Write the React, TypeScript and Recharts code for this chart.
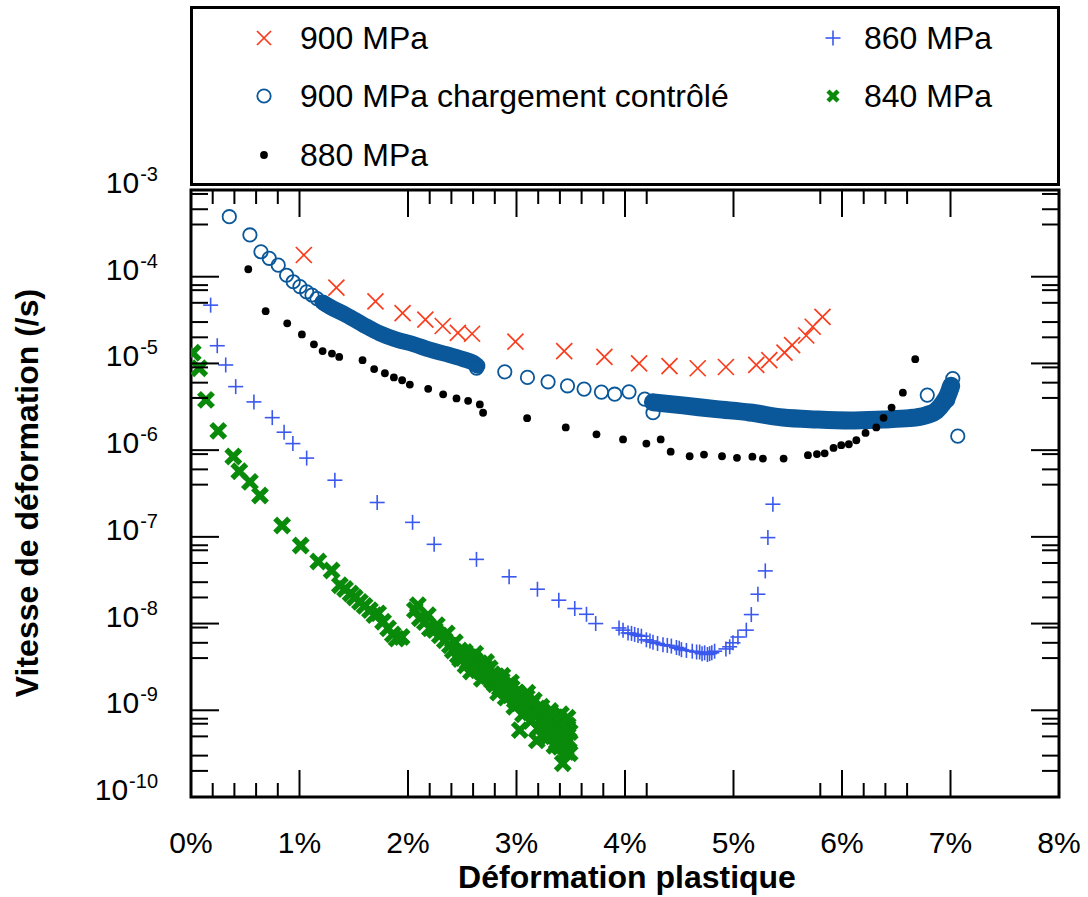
import React from 'react';
import { ComposedChart, Scatter, Line, XAxis, YAxis, ReferenceArea } from 'recharts';

const FONT = '"Liberation Sans", Arial, Helvetica, sans-serif';
const CHART_W = 1088;
const CHART_H = 897;
const PLOT_W = 868;
const PLOT_H = 607;

const RED = '#f93c1c';
const BLUE_C = '#0a5799';
const BLUE_P = '#3a58ee';
const GREEN = '#0a8a0a';

const legendLabels = ['900 MPa', '900 MPa chargement contrôlé', '880 MPa', '860 MPa', '840 MPa'];
const xTitle = 'Déformation plastique';
const yTitle = 'Vitesse de déformation (/s)';

const xTicks = [0, 0.2, 0.4, 0.6, 0.8, 1, 2, 2.2, 2.4, 2.6, 2.8, 3, 3.2, 3.4, 3.6, 3.8, 4, 4.2, 5, 5.8, 6, 6.2, 6.4, 6.6, 7, 8];
const yTicks = [
  1e-3, 9e-4, 6e-4, 4e-4,
  1e-4, 8e-5, 7e-5, 5e-5, 3e-5, 2e-5,
  1e-5, 9e-6, 6e-6, 4e-6,
  1e-6, 9e-7, 6e-7, 4e-7,
  1e-7, 8e-8, 7e-8, 5e-8, 3e-8, 2e-8,
  1e-8, 9e-9, 6e-9, 4e-9,
  1e-9, 8e-10, 7e-10, 5e-10, 3e-10, 2e-10,
  1e-10,
];

// 900 MPa (red x)
const mpa900: [number, number][] = [
  [1.04, 1.78e-4], [1.34, 7.5e-5], [1.70, 5.2e-5], [1.95, 3.8e-5], [2.16, 3.2e-5], [2.32, 2.7e-5],
  [2.46, 2.25e-5], [2.59, 2.2e-5], [2.99, 1.78e-5], [3.44, 1.39e-5], [3.81, 1.19e-5], [4.13, 1.0e-5],
  [4.41, 9.3e-6], [4.67, 8.8e-6], [4.93, 9.1e-6], [5.21, 9.6e-6], [5.33, 1.09e-5], [5.47, 1.33e-5],
  [5.54, 1.63e-5], [5.67, 2.1e-5], [5.73, 2.65e-5], [5.82, 3.45e-5],
];

// 900 MPa chargement contrôlé : individual circles
const mpa900ctrl: [number, number][] = [
  [0.353, 4.92e-4], [0.543, 3.03e-4], [0.645, 1.94e-4], [0.721, 1.63e-4], [0.804, 1.36e-4],
  [0.881, 1.04e-4], [0.942, 8.75e-5], [1.004, 7.7e-5], [1.066, 6.7e-5], [1.115, 6.15e-5],
  [1.161, 5.6e-5], [1.207, 5.1e-5], [1.243, 4.75e-5], [2.632, 8.8e-6], [2.892, 8.0e-6],
  [3.101, 6.9e-6], [3.291, 6.14e-6], [3.470, 5.52e-6], [3.623, 5.06e-6], [3.783, 4.67e-6],
  [3.905, 4.42e-6], [4.037, 4.71e-6], [4.182, 3.88e-6], [4.258, 2.7e-6], [6.786, 4.31e-6],
  [6.975, 3.78e-6], [6.991, 5.15e-6], [7.021, 6.7e-6], [7.067, 1.45e-6],
];
// 900 MPa chargement contrôlé : dense bands of overlapping circles
const mpa900ctrlBand1: [number, number][] = [
  [1.22, 5.0e-5], [1.28, 4.5e-5], [1.434, 3.6e-5], [1.587, 2.8e-5], [1.741, 2.22e-5], [1.895, 1.88e-5],
  [2.048, 1.67e-5], [2.201, 1.44e-5], [2.355, 1.28e-5], [2.508, 1.12e-5], [2.6, 1.02e-5], [2.64, 9.4e-6],
];
const mpa900ctrlBand2: [number, number][] = [
  [4.258, 3.56e-6], [4.534, 3.28e-6], [4.842, 2.97e-6], [5.149, 2.72e-6], [5.455, 2.38e-6],
  [5.763, 2.26e-6], [6.07, 2.2e-6], [6.376, 2.26e-6], [6.622, 2.34e-6], [6.776, 2.53e-6],
  [6.868, 2.84e-6], [6.929, 3.46e-6], [6.975, 4.31e-6], [7.006, 5.52e-6],
];

// 880 MPa (black dots)
const mpa880: [number, number][] = [
  [0.528, 1.22e-4], [0.688, 4.0e-5], [0.887, 2.9e-5], [1.022, 2.16e-5], [1.133, 1.66e-5], [1.213, 1.39e-5],
  [1.299, 1.3e-5], [1.366, 1.19e-5], [1.581, 1.09e-5], [1.688, 8.6e-6], [1.787, 7.7e-6], [1.87, 6.9e-6],
  [1.946, 6.4e-6], [2.017, 5.7e-6], [2.186, 5.1e-6], [2.324, 4.4e-6], [2.447, 3.95e-6], [2.554, 3.7e-6],
  [2.662, 3.37e-6], [2.692, 2.7e-6], [3.098, 2.34e-6], [3.454, 1.83e-6], [3.737, 1.52e-6], [3.982, 1.33e-6],
  [4.197, 1.19e-6], [4.329, 1.33e-6], [4.421, 9.6e-7], [4.596, 8.5e-7], [4.728, 8.9e-7], [4.894, 8.5e-7],
  [5.032, 8.15e-7], [5.174, 8.4e-7], [5.271, 8.0e-7], [5.462, 8.0e-7], [5.686, 8.75e-7], [5.769, 9.0e-7],
  [5.84, 9.2e-7], [5.922, 1.06e-6], [5.993, 1.14e-6], [6.063, 1.17e-6], [6.132, 1.3e-6], [6.217, 1.58e-6],
  [6.316, 1.83e-6], [6.383, 2.36e-6], [6.457, 3.1e-6], [6.561, 4.6e-6], [6.675, 1.12e-5],
];

// 860 MPa (blue +)
const mpa860: [number, number][] = [
  [0.181, 4.7e-5], [0.242, 1.6e-5], [0.32, 9.6e-6], [0.412, 5.4e-6], [0.58, 3.6e-6], [0.749, 2.37e-6],
  [0.858, 1.61e-6], [0.939, 1.19e-6], [1.066, 8.1e-7], [1.326, 4.5e-7], [1.716, 2.49e-7], [2.042, 1.47e-7],
  [2.241, 8.2e-8], [2.631, 5.5e-8], [2.932, 3.46e-8], [3.193, 2.49e-8], [3.39, 1.86e-8], [3.537, 1.49e-8],
  [3.645, 1.28e-8], [3.73, 1.0e-8], [3.945, 8.9e-9], [3.982, 8.4e-9], [4.028, 7.8e-9], [4.06, 7.7e-9],
  [4.089, 7.5e-9], [4.12, 7.3e-9], [4.151, 7.15e-9], [4.197, 6.5e-9], [4.23, 6.3e-9], [4.258, 6.1e-9],
  [4.3, 5.9e-9], [4.35, 5.7e-9], [4.39, 5.6e-9], [4.427, 5.5e-9], [4.474, 5.3e-9], [4.5, 5.2e-9],
  [4.52, 5.0e-9], [4.566, 4.9e-9], [4.62, 4.8e-9], [4.66, 4.7e-9], [4.688, 4.7e-9], [4.71, 4.5e-9],
  [4.734, 4.6e-9], [4.76, 4.4e-9], [4.78, 4.5e-9], [4.8, 4.6e-9], [4.826, 4.8e-9], [4.93, 5.1e-9],
  [4.965, 5.4e-9], [4.995, 6.0e-9], [5.041, 7.0e-9], [5.118, 8.4e-9], [5.164, 1.27e-8], [5.225, 2.18e-8],
  [5.293, 4.05e-8], [5.317, 9.8e-8], [5.363, 2.38e-7],
];

// 840 MPa (green bold x)
const mpa840: [number, number][] = [
  [0.016, 1.33e-5], [0.076, 8.8e-6], [0.138, 3.8e-6], [0.251, 1.67e-6], [0.39, 8.45e-7], [0.445, 5.7e-7],
  [0.543, 4.3e-7], [0.636, 3.0e-7], [0.84, 1.35e-7], [1.011, 7.95e-8], [1.173, 5.2e-8], [1.296, 4.1e-8],
  [1.372, 2.77e-8], [1.42, 2.5e-8], [1.471, 2.22e-8], [1.51, 2.0e-8], [1.557, 1.78e-8], [1.6, 1.6e-8],
  [1.649, 1.43e-8], [1.69, 1.25e-8], [1.725, 1.31e-8], [1.77, 1.05e-8], [1.817, 8.8e-9], [1.86, 7.5e-9],
  [1.895, 6.7e-9], [1.941, 7.0e-9],
  [2.063, 1.43e-8], [2.091, 1.63e-8], [2.109, 1.15e-8], [2.155, 1.04e-8], [2.183, 1.25e-8], [2.201, 8.8e-9],
  [2.247, 8.4e-9], [2.266, 9.6e-9], [2.293, 7.3e-9], [2.339, 6.4e-9], [2.358, 7.7e-9], [2.386, 5.6e-9],
  [2.413, 4.9e-9], [2.432, 6.1e-9], [2.459, 4.3e-9], [2.478, 4.9e-9], [2.505, 4.0e-9], [2.524, 4.7e-9],
  [2.551, 3.6e-9], [2.57, 4.1e-9], [2.597, 3.3e-9], [2.616, 3.8e-9], [2.643, 2.9e-9], [2.662, 3.5e-9],
  [2.689, 2.75e-9], [2.708, 3.1e-9], [2.736, 2.47e-9], [2.754, 3.05e-9], [2.772, 2.2e-9], [2.8, 2.0e-9],
  [2.818, 2.47e-9], [2.846, 1.8e-9], [2.864, 2.2e-9], [2.892, 1.7e-9], [2.92, 1.94e-9], [2.938, 1.49e-9],
  [2.957, 1.8e-9], [2.984, 1.3e-9], [3.003, 1.61e-9], [3.03, 5.9e-10], [3.049, 1.37e-9], [3.076, 1.14e-9],
  [3.095, 1.41e-9], [3.122, 9.5e-10], [3.141, 1.2e-9], [3.168, 8.8e-10], [3.187, 4.5e-10], [3.196, 1.05e-9],
  [3.215, 7.7e-10], [3.242, 9.5e-10], [3.261, 6.7e-10], [3.279, 8.5e-10], [3.288, 4.9e-10], [3.307, 6.3e-10],
  [3.325, 7.7e-10], [3.353, 5.6e-10], [3.362, 8.3e-10], [3.371, 4.3e-10], [3.399, 6.3e-10], [3.417, 7.3e-10],
  [3.426, 2.45e-10], [3.445, 5.1e-10], [3.454, 3.65e-10], [3.472, 6.7e-10], [3.482, 4.5e-10], [3.491, 5.6e-10],
  [3.463, 3.3e-10],
  [2.48, 3.9e-9], [2.53, 3.3e-9], [2.58, 2.8e-9], [2.62, 4.5e-9], [2.68, 2.3e-9], [2.72, 3.6e-9],
  [2.78, 2.6e-9], [2.83, 1.6e-9], [2.87, 2.5e-9], [2.9, 1.4e-9], [2.95, 2.1e-9], [2.98, 1.1e-9],
  [3.02, 1.2e-9], [3.06, 9.0e-10], [3.1, 1.6e-9], [3.13, 7.5e-10], [3.16, 1.3e-9], [3.2, 6.2e-10],
  [3.23, 1.1e-9], [3.27, 5.5e-10], [3.31, 9.8e-10], [3.34, 7.0e-10], [3.38, 5.3e-10], [3.41, 9.0e-10],
  [3.44, 4.2e-10], [3.47, 8.2e-10], [3.49, 3.2e-10], [3.4, 3.8e-10], [3.35, 3.9e-10], [3.24, 5.0e-10],
];

const rows = (a: [number, number][]) => a.map(([x, y]) => ({ x, y }));

const RedX = ({ cx, cy, s = 8 }: any) => (
  <g stroke={RED} strokeWidth={1.7}>
    <line x1={cx - s} y1={cy - s} x2={cx + s} y2={cy + s} />
    <line x1={cx - s} y1={cy + s} x2={cx + s} y2={cy - s} />
  </g>
);
const BlueCircle = ({ cx, cy }: any) => (
  <circle cx={cx} cy={cy} r={6.7} fill="none" stroke={BLUE_C} strokeWidth={1.8} />
);
const BlackDot = ({ cx, cy }: any) => <circle cx={cx} cy={cy} r={3.9} fill="#000" />;
const BluePlus = ({ cx, cy }: any) => (
  <g stroke={BLUE_P} strokeWidth={1.6}>
    <line x1={cx - 7.5} y1={cy} x2={cx + 7.5} y2={cy} />
    <line x1={cx} y1={cy - 7.5} x2={cx} y2={cy + 7.5} />
  </g>
);
const GreenX = ({ cx, cy, s = 7, w = 5.5 }: any) => (
  <g stroke={GREEN} strokeWidth={w}>
    <line x1={cx - s} y1={cy - s} x2={cx + s} y2={cy + s} />
    <line x1={cx - s} y1={cy + s} x2={cx + s} y2={cy - s} />
  </g>
);
const LegendGreenX = ({ cx, cy }: any) => <GreenX cx={cx} cy={cy} s={5} w={4.5} />;
const LegendRedX = ({ cx, cy }: any) => <RedX cx={cx} cy={cy} s={7} />;

const XTick = (p: any) => {
  const { x, y, payload } = p;
  const v = payload.value as number;
  const major = Math.abs(v - Math.round(v)) < 1e-9;
  const len = major ? 27 : 14;
  return (
    <g>
      <line x1={x} x2={x} y1={y} y2={y - len} stroke="#000" strokeWidth={2} />
      <line x1={x} x2={x} y1={y - PLOT_H} y2={y - PLOT_H + len} stroke="#000" strokeWidth={2} />
      {major && (
        <text x={x} y={y + 56} textAnchor="middle" fontSize={30} fontFamily={FONT} fill="#000">
          {`${Math.round(v)}%`}
        </text>
      )}
    </g>
  );
};

const YTick = (p: any) => {
  const { x, y, payload } = p;
  const v = payload.value as number;
  const e = Math.log10(v);
  const major = Math.abs(e - Math.round(e)) < 1e-6;
  const len = major ? 28 : 17;
  return (
    <g>
      <line x1={x} x2={x + len} y1={y} y2={y} stroke="#000" strokeWidth={2} />
      <line x1={x + PLOT_W} x2={x + PLOT_W - len} y1={y} y2={y} stroke="#000" strokeWidth={2} />
      {major && (
        <text x={x - 33} y={y + 3} textAnchor="end" fontSize={30} fontFamily={FONT} fill="#000">
          10
          <tspan dy={-12} dx={1} fontSize={20}>{`${Math.round(e)}`}</tspan>
        </text>
      )}
    </g>
  );
};

const legendRows = [
  { label: legendLabels[0], mx: 264, tx: 300, cy: 38, M: LegendRedX },
  { label: legendLabels[1], mx: 264, tx: 300, cy: 96, M: BlueCircle },
  { label: legendLabels[2], mx: 264, tx: 300, cy: 155, M: BlackDot },
  { label: legendLabels[3], mx: 833, tx: 864, cy: 38, M: BluePlus },
  { label: legendLabels[4], mx: 833, tx: 864, cy: 96, M: LegendGreenX },
];

export default function App() {
  return (
    <div style={{ position: 'absolute', left: 0, top: 0, width: CHART_W, height: CHART_H, background: '#fff', fontFamily: FONT }}>
      <ComposedChart width={CHART_W} height={CHART_H} margin={{ top: 190, right: 29, bottom: 0, left: 0 }}>
        <XAxis
          xAxisId="x" dataKey="x" type="number" domain={[0, 8]} ticks={xTicks} interval={0}
          allowDataOverflow tickLine={false} axisLine={false} tickSize={0} tickMargin={0}
          height={100} tick={XTick}
        />
        <YAxis
          yAxisId="y" dataKey="y" type="number" scale="log" domain={[1e-10, 1e-3]} ticks={yTicks}
          interval={0} allowDataOverflow tickLine={false} axisLine={false} tickSize={0} tickMargin={0}
          width={191} tick={YTick}
        />
        <ReferenceArea
          xAxisId="x" yAxisId="y" x1={0} x2={8} y1={1e-10} y2={1e-3}
          fill="none" fillOpacity={0} stroke="#000" strokeWidth={3}
        />
        <Line
          xAxisId="x" yAxisId="y" data={rows(mpa900ctrlBand1)} dataKey="y" type="monotone"
          stroke={BLUE_C} strokeWidth={16} strokeLinecap="round" dot={false} activeDot={false}
          isAnimationActive={false} legendType="none"
        />
        <Line
          xAxisId="x" yAxisId="y" data={rows(mpa900ctrlBand2)} dataKey="y" type="monotone"
          stroke={BLUE_C} strokeWidth={18} strokeLinecap="round" dot={false} activeDot={false}
          isAnimationActive={false} legendType="none"
        />
        <Scatter xAxisId="x" yAxisId="y" data={rows(mpa900ctrl)} dataKey="y" shape={(p: any) => <BlueCircle cx={p.cx} cy={p.cy} />} isAnimationActive={false} />
        <Scatter xAxisId="x" yAxisId="y" data={rows(mpa880)} dataKey="y" shape={(p: any) => <BlackDot cx={p.cx} cy={p.cy} />} isAnimationActive={false} />
        <Scatter xAxisId="x" yAxisId="y" data={rows(mpa900)} dataKey="y" shape={(p: any) => <RedX cx={p.cx} cy={p.cy} />} isAnimationActive={false} />
        <Scatter xAxisId="x" yAxisId="y" data={rows(mpa860)} dataKey="y" shape={(p: any) => <BluePlus cx={p.cx} cy={p.cy} />} isAnimationActive={false} />
        <Scatter xAxisId="x" yAxisId="y" data={rows(mpa840)} dataKey="y" shape={(p: any) => <GreenX cx={p.cx} cy={p.cy} />} isAnimationActive={false} />
      </ComposedChart>
      <svg
        width={CHART_W} height={CHART_H}
        style={{ position: 'absolute', left: 0, top: 0, pointerEvents: 'none' }}
      >
        <rect x={191.5} y={7.5} width={867} height={177} fill="none" stroke="#000" strokeWidth={3} />
        {legendRows.map((r, i) => (
          <g key={i}>
            <r.M cx={r.mx} cy={r.cy} />
            <text x={r.tx} y={r.cy + 11} fontSize={32} fontFamily={FONT} fill="#000">{r.label}</text>
          </g>
        ))}
        <text x={627} y={888} textAnchor="middle" fontSize={32} fontWeight="bold" fontFamily={FONT} fill="#000">
          {xTitle}
        </text>
        <text
          x={38} y={493} textAnchor="middle" fontSize={32} fontWeight="bold" fontFamily={FONT} fill="#000"
          transform="rotate(-90, 38, 493)"
        >
          {yTitle}
        </text>
      </svg>
    </div>
  );
}
